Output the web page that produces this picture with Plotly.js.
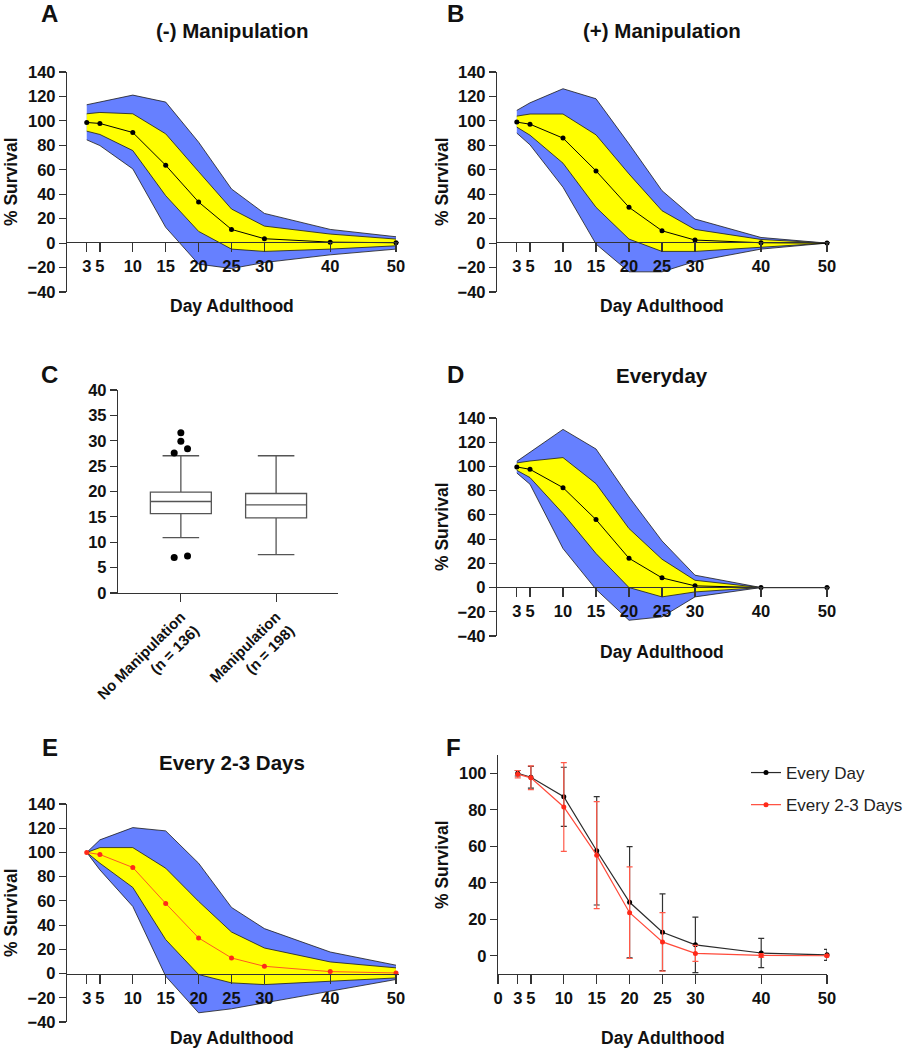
<!DOCTYPE html>
<html>
<head>
<meta charset="utf-8">
<script src="https://cdn.plot.ly/plotly-3.0.1.min.js"></script>
<style>
    body { margin: 0; background: #ffffff; }
    #plotly-plot { width: 909px; height: 1050px; }
</style>
</head>
<body>
<div id="plotly-plot"></div>
<script>
// DATA
var days = [3, 5, 10, 15, 20, 25, 30, 40, 50];
var day_ticks = [3, 5, 10, 15, 20, 25, 30, 40, 50];
var day_ticks_f = [0, 3, 5, 10, 15, 20, 25, 30, 40, 50];

// A: (-) Manipulation
var a_mean    = [98.7, 97.9, 90.5, 63.7, 33.6, 11.2, 3.6, 0.8, 0.3];
var a_yel_hi  = [105.8, 106.9, 105.8, 89.4, 58.5, 27.9, 13.9, 7.4, 3.3];
var a_yel_lo  = [91.6, 88.9, 75.7, 38.8, 9.6, -4.9, -6.8, -4.9, -2.2];
var a_blue_hi = [113.2, 115.4, 121.1, 115.4, 82.6, 44.3, 24.3, 11.2, 5.2];
var a_blue_lo = [84.5, 79.8, 60.7, 12.9, -17.2, -20.8, -15.9, -9.6, -4.9];

// B: (+) Manipulation
var b_mean    = [99.0, 97.3, 85.9, 59.1, 29.3, 10.1, 2.5, 0.3, 0];
var b_yel_hi  = [103.9, 105.6, 105.6, 88.6, 56.6, 26.5, 11.2, 3.0, 0];
var b_yel_lo  = [94.9, 88.3, 65.4, 29.3, 3.3, -6.8, -6.8, -3.6, 0];
var b_blue_hi = [108.6, 114.8, 126.3, 118.1, 81.2, 42.9, 19.7, 4.6, 0];
var b_blue_lo = [90.0, 80.4, 45.7, -0.8, -23.5, -23.5, -15.0, -4.9, 0];

// C: box plot
var c_labels  = ["No Manipulation<br>(n = 136)", "Manipulation<br>(n = 198)"];
var c_q1      = [15.66, 14.80];
var c_median  = [18.03, 17.37];
var c_q3      = [19.87, 19.61];
var c_lo      = [10.92, 7.57];
var c_hi      = [27.04, 27.04];
var c_out_group = [0, 0, 0, 0, 0, 0];
var c_out_jitter = [0, 0, 0.07, -0.07, -0.07, 0.07];
var c_out_vals  = [31.6, 29.9, 28.4, 27.6, 7.0, 7.3];

// D: Everyday
var d_mean    = [99.6, 97.6, 82.5, 56.1, 24.2, 8.0, 1.4, 0, 0];
var d_yel_hi  = [102.9, 104.5, 107.3, 85.8, 48.7, 23.4, 6.0, 0, 0];
var d_yel_lo  = [96.8, 90.8, 61.1, 28.1, 0, -7.7, -3.6, 0, 0];
var d_blue_hi = [104.2, 111.9, 130.6, 114.4, 74.8, 38.5, 10.2, 0, 0];
var d_blue_lo = [94.6, 85.3, 32.2, -1.5, -27.0, -24.2, -7.7, 0, 0];

// E: Every 2-3 Days
var e_mean    = [100, 98.3, 87.6, 57.9, 29.4, 12.9, 6.0, 1.6, 0.5];
var e_yel_hi  = [100, 104.0, 104.0, 87.0, 59.6, 34.3, 21.1, 9.6, 4.7];
var e_yel_lo  = [100, 91.1, 71.1, 28.0, -0.8, -7.7, -9.1, -6.3, -3.6];
var e_blue_hi = [100, 110.4, 120.5, 117.8, 91.1, 54.6, 37.1, 17.8, 6.9];
var e_blue_lo = [100, 85.6, 55.4, -2.2, -32.4, -29.1, -24.2, -14.5, -4.9];

// F: comparison
var f_every_day_mean = [100, 97.8, 87.1, 57.5, 29.3, 12.9, 6.0, 1.5, 0.5];
var f_every_day_sd   = [1.5, 6.0, 16.2, 29.7, 30.5, 21.0, 15.2, 8.0, 3.0];
var f_every_23_mean  = [99.5, 97.5, 81.5, 55.1, 23.6, 7.6, 1.3, 0.2, 0];
var f_every_23_sd    = [2.0, 6.5, 24.3, 29.3, 25.1, 16.0, 4.4, 1.0, 0.5];

// STYLE
var font_family = 'Liberation Sans, Arial, sans-serif';
var blue = '#6680ff';
var yellow = '#ffff00';
var ink = '#111111';
var axis_color = '#333333';

function px(x) { return x / 909; }
function py(y) { return 1 - y / 1050; }

function band_traces(xa, ya, blue_hi, blue_lo, yel_hi, yel_lo, mean, mean_color, line_color) {
    var edge = {color: '#1a1a1a', width: 0.8};
    var base = {x: days, type: 'scatter', mode: 'lines', xaxis: xa, yaxis: ya,
                showlegend: false, hoverinfo: 'skip', line: edge};
    return [
        Object.assign({}, base, {y: blue_lo}),
        Object.assign({}, base, {y: blue_hi, fill: 'tonexty', fillcolor: blue}),
        Object.assign({}, base, {y: yel_lo}),
        Object.assign({}, base, {y: yel_hi, fill: 'tonexty', fillcolor: yellow}),
        {
            x: days, y: mean, type: 'scatter', mode: 'lines+markers',
            xaxis: xa, yaxis: ya, showlegend: false, cliponaxis: false,
            line: {color: line_color, width: 1},
            marker: {color: mean_color, size: 5}
        }
    ];
}

var data = [];
data = data.concat(band_traces('x', 'y', a_blue_hi, a_blue_lo, a_yel_hi, a_yel_lo, a_mean, '#000000', '#000000'));
data = data.concat(band_traces('x2', 'y2', b_blue_hi, b_blue_lo, b_yel_hi, b_yel_lo, b_mean, '#000000', '#000000'));
data = data.concat(band_traces('x4', 'y4', d_blue_hi, d_blue_lo, d_yel_hi, d_yel_lo, d_mean, '#000000', '#000000'));
data = data.concat(band_traces('x5', 'y5', e_blue_hi, e_blue_lo, e_yel_hi, e_yel_lo, e_mean, '#ff2a1a', '#ff5a22'));

// C box plot, stats
data.push({
    type: 'box',
    x: [0, 1],
    q1: c_q1,
    median: c_median,
    q3: c_q3,
    lowerfence: c_lo,
    upperfence: c_hi,
    xaxis: 'x3',
    yaxis: 'y3',
    width: 0.64,
    whiskerwidth: 0.6,
    fillcolor: '#ffffff',
    line: {color: '#555555', width: 1.3},
    boxpoints: false,
    showlegend: false
});
data.push({
    type: 'scatter',
    mode: 'markers',
    x: c_out_group.map(function (g, i) { return g + c_out_jitter[i]; }),
    y: c_out_vals,
    xaxis: 'x3',
    yaxis: 'y3',
    marker: {color: '#000000', size: 7},
    showlegend: false
});

// F lines with SD bars
data.push({
    name: 'Every Day',
    x: days, y: f_every_day_mean,
    type: 'scatter', mode: 'lines+markers',
    xaxis: 'x6', yaxis: 'y6', cliponaxis: false,
    legendgroup: 'a',
    line: {color: '#2a2a2a', width: 1.2},
    marker: {color: '#000000', size: 5},
    error_y: {type: 'data', array: f_every_day_sd, visible: true, color: '#333333', thickness: 1.2, width: 3}
});
data.push({
    name: 'Every 2-3 Days',
    x: days, y: f_every_23_mean,
    type: 'scatter', mode: 'lines+markers',
    xaxis: 'x6', yaxis: 'y6', cliponaxis: false,
    legendgroup: 'b',
    line: {color: '#ff4a3a', width: 1.2},
    marker: {color: '#ff2a1a', size: 5},
    error_y: {type: 'data', array: f_every_23_sd, visible: true, color: '#ff5a4a', thickness: 1.2, width: 3}
});

var tick_font = {family: font_family, size: 16.5, color: ink, weight: 'bold'};

function y_axis(domain, range, dtick, anchor) {
    return {
        domain: domain, range: range, dtick: dtick, tick0: 0, anchor: anchor,
        showgrid: false, zeroline: false, showline: true,
        linecolor: axis_color, linewidth: 1.2,
        ticks: 'outside', ticklen: 7, tickwidth: 1.2, tickcolor: axis_color,
        tickfont: tick_font, fixedrange: true
    };
}

function day_axis(domain, position) {
    return {
        domain: domain, range: [0, 50.5], anchor: 'free', position: position,
        tickmode: 'array', tickvals: day_ticks,
        showgrid: false, zeroline: false, showline: true,
        linecolor: axis_color, linewidth: 1.2,
        ticks: 'outside', ticklen: 9, tickwidth: 1.2, tickcolor: axis_color,
        tickfont: tick_font, fixedrange: true
    };
}

var left_x = [px(67), px(399.3)];
var right_x = [px(497), px(830.3)];

var annotations = [];
function note(text, x, y, size, angle, weight) {
    annotations.push({
        text: text, x: px(x), y: py(y), xref: 'paper', yref: 'paper',
        xanchor: 'center', yanchor: 'middle', showarrow: false, textangle: angle || 0,
        font: {family: font_family, size: size, color: ink, weight: weight || 'bold'}
    });
}

// panel letters
note('A', 49, 14, 24);
note('B', 455, 14, 24);
note('C', 49, 374, 24);
note('D', 455, 374, 24);
note('E', 50, 747, 24);
note('F', 453, 747, 24);
// panel titles
note('(-) Manipulation', 232, 30, 20.5);
note('(+) Manipulation', 662, 30, 20.5);
note('Everyday', 662, 375, 20.5);
note('Every 2-3 Days', 232, 762, 20.5);
// axis titles
note('Day Adulthood', 232, 306, 17.5);
note('Day Adulthood', 662, 306, 17.5);
note('Day Adulthood', 662, 652, 17.5);
note('Day Adulthood', 232, 1038, 17.5);
note('Day Adulthood', 663, 1038, 17.5);
note('% Survival', 11, 182, 17.5, -90);
note('% Survival', 442, 182, 17.5, -90);
note('% Survival', 442, 527, 17.5, -90);
note('% Survival', 11, 913, 17.5, -90);
note('% Survival', 442, 865, 17.5, -90);

var layout = {
    width: 909,
    height: 1050,
    margin: {l: 0, r: 0, t: 0, b: 0, pad: 0},
    paper_bgcolor: '#ffffff',
    plot_bgcolor: 'rgba(0,0,0,0)',
    font: {family: font_family, color: ink},
    showlegend: true,
    legend: {
        x: px(746), y: py(755), xanchor: 'left', yanchor: 'top',
        traceorder: 'grouped', tracegroupgap: 7,
        bgcolor: 'rgba(0,0,0,0)',
        font: {family: font_family, size: 17, color: '#222222'}
    },

    xaxis: day_axis(left_x, py(242)),
    yaxis: y_axis([py(292), py(72)], [-40, 140], 20, 'x'),

    xaxis2: day_axis(right_x, py(242)),
    yaxis2: y_axis([py(292), py(72)], [-40, 140], 20, 'x2'),

    xaxis3: {
        domain: [px(118), px(338)], range: [-0.66, 1.65], anchor: 'y3',
        tickmode: 'array', tickvals: [0, 1], ticktext: c_labels, tickangle: -45,
        showgrid: false, zeroline: false, showline: true,
        linecolor: axis_color, linewidth: 1.2,
        ticks: 'outside', ticklen: 8, tickwidth: 1.2, tickcolor: axis_color,
        tickfont: {family: font_family, size: 15, color: ink, weight: 'bold'},
        fixedrange: true
    },
    yaxis3: y_axis([py(593), py(390)], [0, 40], 5, 'x3'),

    xaxis4: day_axis(right_x, py(587)),
    yaxis4: y_axis([py(636), py(418)], [-40, 140], 20, 'x4'),

    xaxis5: day_axis(left_x, py(974)),
    yaxis5: y_axis([py(1022), py(804)], [-40, 140], 20, 'x5'),

    xaxis6: {
        domain: [px(498), px(827)], range: [0, 50], anchor: 'y6',
        tickmode: 'array', tickvals: day_ticks_f,
        showgrid: false, zeroline: false, showline: true,
        linecolor: axis_color, linewidth: 1.2,
        ticks: 'outside', ticklen: 9, tickwidth: 1.2, tickcolor: axis_color,
        tickfont: tick_font, fixedrange: true
    },
    yaxis6: y_axis([py(974), py(755)], [-10, 110], 20, 'x6'),

    annotations: annotations
};

Plotly.newPlot('plotly-plot', data, layout, {displayModeBar: false, staticPlot: true});
</script>
</body>
</html>
